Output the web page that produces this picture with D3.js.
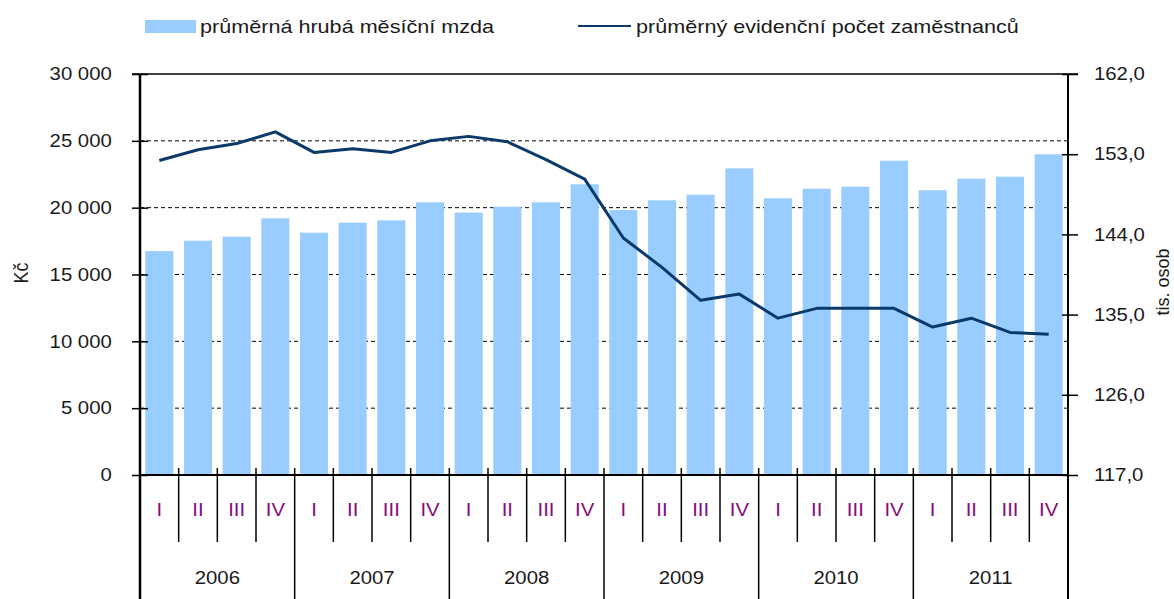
<!DOCTYPE html>
<html>
<head>
<meta charset="utf-8">
<script src="https://cdn.jsdelivr.net/npm/d3@7"></script>
<style>
    body { margin: 0; background: #fff; }
    svg text { font-family: "Liberation Sans", Arial, sans-serif; }
</style>
</head>
<body>
<svg id="chart" width="1174" height="599"></svg>
<script>
// data
const years = ["2006", "2007", "2008", "2009", "2010", "2011"];
const quarters = ["I", "II", "III", "IV"];
const wages = [16750, 17530, 17830, 19200, 18130, 18880, 19050, 20400, 19630, 20075, 20400, 21750,
    19825, 20550, 20970, 22940, 20700, 21420, 21570, 23515, 21300, 22170, 22320, 23990];
const employees = [152.3, 153.5, 154.2, 155.5, 153.2, 153.6, 153.2, 154.5, 155.0, 154.4, 152.4, 150.2,
    143.6, 140.3, 136.6, 137.3, 134.6, 135.7, 135.7, 135.7, 133.6, 134.6, 133.0, 132.8];
const leftTicks = [0, 5000, 10000, 15000, 20000, 25000, 30000];
const rightTicks = [117, 126, 135, 144, 153, 162];
const legendLabels = ["průměrná hrubá měsíční mzda", "průměrný evidenční počet zaměstnanců"];

const periods = years.flatMap((y) => quarters.map((q) => y + "-" + q));

const svg = d3.select("#chart");
const plotL = 140, plotR = 1068, plotT = 74, plotB = 475;
const sx = 1.13; // the original text is a bit stretched horizontally

const x = d3.scaleBand().domain(periods).range([plotL, plotR]).paddingInner(0.275).paddingOuter(0.1375);
const yL = d3.scaleLinear().domain([0, 30000]).range([plotB, plotT]);
const yR = d3.scaleLinear().domain([117, 162]).range([plotB, plotT]);

// gridlines
svg.append("g")
    .selectAll("line")
    .data(leftTicks.filter((t) => t > 0 && t < 30000))
    .enter()
    .append("line")
    .attr("x1", plotL).attr("x2", plotR)
    .attr("y1", (d) => yL(d)).attr("y2", (d) => yL(d))
    .attr("stroke", "#000").attr("stroke-width", 1).attr("stroke-dasharray", "4,3");

// bars
svg.append("g")
    .selectAll("rect")
    .data(wages)
    .enter()
    .append("rect")
    .attr("x", (d, i) => x(periods[i]))
    .attr("y", (d) => yL(d))
    .attr("width", x.bandwidth())
    .attr("height", (d) => yL(0) - yL(d))
    .attr("fill", "#99ccff");

// top border
svg.append("line")
    .attr("x1", plotL - 8).attr("x2", plotR + 10)
    .attr("y1", plotT).attr("y2", plotT)
    .attr("stroke", "#000").attr("stroke-width", 1.5);

// left axis
const fmtL = (v) => d3.format(",")(v).replace(",", " ");
const axL = svg.append("g")
    .attr("transform", `translate(${plotL},0)`)
    .call(d3.axisLeft(yL).tickValues(leftTicks).tickFormat(fmtL).tickSize(8).tickPadding(17));
axL.select(".domain").attr("stroke-width", 2.5).attr("d", `M0,${plotT}V599`);
axL.selectAll(".tick line").attr("x1", 8).attr("x2", -8).attr("stroke-width", 1.5);
axL.selectAll(".tick text")
    .attr("font-size", 18).attr("fill", "#1a1a1a")
    .attr("transform", `scale(${sx},1)`);

// right axis
const fmtR = (v) => d3.format(".1f")(v).replace(".", ",");
const axR = svg.append("g")
    .attr("transform", `translate(${plotR},0)`)
    .call(d3.axisRight(yR).tickValues(rightTicks).tickFormat(fmtR).tickSize(8).tickPadding(15));
axR.select(".domain").attr("stroke-width", 2).attr("d", `M0,${plotT}V599`);
axR.selectAll(".tick line").attr("x1", -6).attr("x2", 10).attr("stroke-width", 1.5);
axR.selectAll(".tick text")
    .attr("font-size", 18).attr("fill", "#1a1a1a")
    .attr("transform", `scale(${sx},1)`);

// category axis
svg.append("line")
    .attr("x1", plotL).attr("x2", plotR)
    .attr("y1", plotB).attr("y2", plotB)
    .attr("stroke", "#000").attr("stroke-width", 2);

const step = x.step();
const seps = d3.range(1, periods.length);
svg.append("g")
    .selectAll("line")
    .data(seps)
    .enter()
    .append("line")
    .attr("x1", (i) => plotL + i * step).attr("x2", (i) => plotL + i * step)
    .attr("y1", plotB - 7)
    .attr("y2", (i) => (i % 4 === 0 ? 599 : 542))
    .attr("stroke", "#000").attr("stroke-width", 1.5);

svg.append("g")
    .selectAll("text")
    .data(periods)
    .enter()
    .append("text")
    .attr("transform", (d) => `translate(${x(d) + x.bandwidth() / 2},516) scale(${sx},1)`)
    .attr("text-anchor", "middle")
    .attr("font-size", 18)
    .attr("fill", "#860a7e")
    .text((d) => d.split("-")[1]);

svg.append("g")
    .selectAll("text")
    .data(years)
    .enter()
    .append("text")
    .attr("transform", (d, i) => `translate(${plotL + (i * 4 + 2) * step},584) scale(${sx},1)`)
    .attr("text-anchor", "middle")
    .attr("font-size", 18)
    .attr("fill", "#1a1a1a")
    .text((d) => d);

// line
const line = d3.line()
    .x((d, i) => x(periods[i]) + x.bandwidth() / 2)
    .y((d) => yR(d));
svg.append("path")
    .datum(employees)
    .attr("d", line)
    .attr("fill", "none")
    .attr("stroke", "#0b3a6a")
    .attr("stroke-width", 3)
    .attr("stroke-linejoin", "round");

// axis titles
svg.append("text")
    .attr("transform", "translate(28,273) rotate(-90) scale(1,1.15)")
    .attr("text-anchor", "middle")
    .attr("font-size", 18).attr("fill", "#1a1a1a")
    .text("Kč");
svg.append("text")
    .attr("transform", "translate(1169,282) rotate(-90) scale(1,1.05)")
    .attr("text-anchor", "middle")
    .attr("font-size", 18).attr("fill", "#1a1a1a")
    .text("tis. osob");

// legend
const legend = svg.append("g");
legend.append("rect")
    .attr("x", 145).attr("y", 20).attr("width", 51).attr("height", 13)
    .attr("fill", "#99ccff");
legend.append("text")
    .attr("transform", `translate(200,33) scale(1.2,1)`)
    .attr("font-size", 18).attr("fill", "#1a1a1a")
    .text(legendLabels[0]);
legend.append("line")
    .attr("x1", 578).attr("x2", 631).attr("y1", 26).attr("y2", 26)
    .attr("stroke", "#0b3a6a").attr("stroke-width", 2);
legend.append("text")
    .attr("transform", `translate(636,33) scale(1.2,1)`)
    .attr("font-size", 18).attr("fill", "#1a1a1a")
    .text(legendLabels[1]);
</script>
</body>
</html>
